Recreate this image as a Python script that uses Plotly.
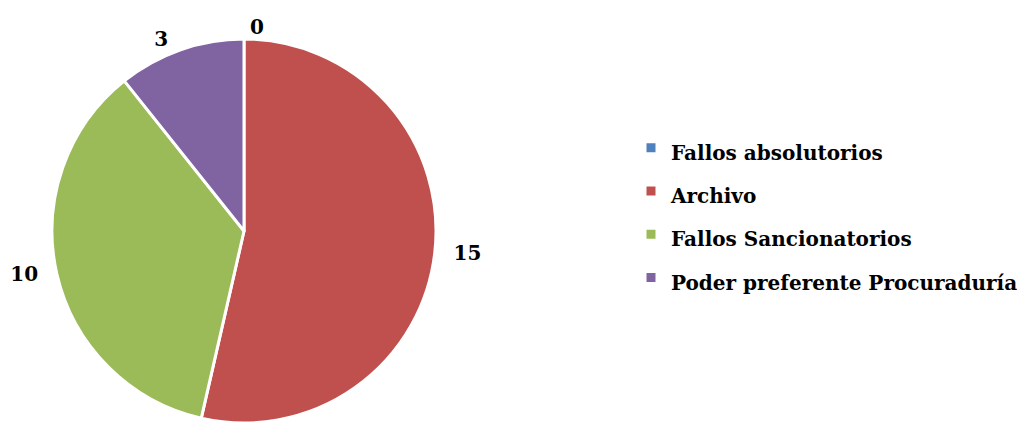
import plotly.graph_objects as go

labels = ["Fallos absolutorios", "Archivo", "Fallos Sancionatorios", "Poder preferente Procuraduría"]
values = [0, 15, 10, 3]
colors = ["#4F81BD", "#C0504D", "#9BBB59", "#8064A2"]

W, H = 1023, 425
cx, cy, r = 244, 231, 192

# small padding so the outside labels sit a little further from the pie (as in Excel)
templates = ["<b>%{value}</b>", "  <b>%{value}</b>", "<b>%{value}</b>  ", "<b>%{value}</b> "]

fig = go.Figure(go.Pie(
    labels=[f'<span style="font-size:20px">{l}</span>' for l in labels],
    values=values, sort=False, direction="clockwise", rotation=0,
    marker=dict(colors=colors, line=dict(color="white", width=3)),
    texttemplate=templates, textposition="outside", automargin=False,
    outsidetextfont=dict(family="DejaVu Serif", size=20, color="black"),
    showlegend=True, hoverinfo="label+value",
    domain=dict(x=[(cx - r) / W, (cx + r) / W], y=[(H - cy - r) / H, (H - cy + r) / H]),
))
fig.update_layout(
    width=W, height=H, margin=dict(l=0, r=0, t=0, b=0, autoexpand=False),
    paper_bgcolor="white", plot_bgcolor="white",
    font=dict(family="DejaVu Serif", color="black"),
    legend=dict(x=631 / W, y=(H - 213) / H, xanchor="left", yanchor="middle",
                font=dict(family="DejaVu Serif", size=31, color="black", weight="bold"),
                tracegroupgap=0, itemwidth=30, traceorder="normal"),
)
fig.write_html("out.html", post_script="document.body.style.margin='0px';",
               config={"displayModeBar": False})
